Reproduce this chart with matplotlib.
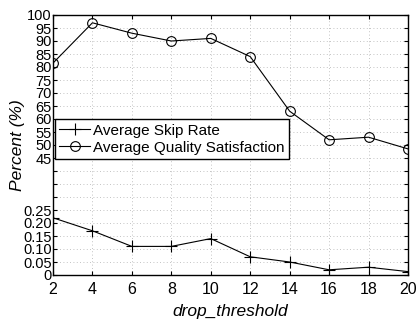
import numpy as np
import matplotlib
matplotlib.use("Agg")
import matplotlib.pyplot as plt

plt.rcParams["font.family"] = ["Liberation Sans", "DejaVu Sans"]

drop_threshold = [2, 4, 6, 8, 10, 12, 14, 16, 18, 20]
skip_rate = [0.22, 0.17, 0.11, 0.11, 0.14, 0.07, 0.05, 0.02, 0.03, 0.013]
quality = [81.5, 97, 93, 90, 91, 84, 63, 52, 53, 48.5]

low_ticks = [0, 0.05, 0.10, 0.15, 0.20, 0.25]
high_ticks = [45, 50, 55, 60, 65, 70, 75, 80, 85, 90, 95, 100]


# broken y scale: 0..0.25 in the bottom 5 steps, 45..100 in the top 11 steps
def to_pos(v):
    v = np.asarray(v, dtype=float)
    return np.where(v <= 0.25, v / 0.05, 9 + (v - 45) / 5)


fig = plt.figure(figsize=(4.17, 3.21), dpi=100)
ax = fig.add_axes([53 / 417, 46 / 321, 355 / 417, 260 / 321])

ax.plot(drop_threshold, to_pos(skip_rate), "k-", marker="+", markersize=8,
        markeredgewidth=0.8, linewidth=0.8, label="Average Skip Rate")
ax.plot(drop_threshold, to_pos(quality), "k-", marker="o", markersize=7,
        markerfacecolor="none", markeredgewidth=0.8, linewidth=0.8,
        label="Average Quality Satisfaction")

ax.set_xlim(2, 20)
ax.set_ylim(0, 20)
ax.set_xticks(drop_threshold)
ax.set_yticks(np.arange(0, 21))
labels = [""] * 21
for t in low_ticks:
    labels[int(round(t / 0.05))] = "0" if t == 0 else "%.2f" % t
for t in high_ticks:
    labels[int(round(9 + (t - 45) / 5))] = str(t)
ax.set_yticklabels(labels)
ax.tick_params(axis="x", labelsize=11.5, direction="in", top=True, length=3, pad=5)
ax.tick_params(axis="y", labelsize=10.5, direction="in", right=True, length=3, pad=1)

ax.grid(True, linestyle=(0, (1, 3)), color="#b0b0b0", linewidth=0.6)
for s in ax.spines.values():
    s.set_linewidth(1.0)

ax.set_xlabel("drop_threshold", fontsize=12.5, fontstyle="italic", labelpad=5)
ax.set_ylabel("Percent (%)", fontsize=12.5, fontstyle="italic")
ax.yaxis.set_label_coords(-0.08, 0.5)

leg = ax.legend(loc="upper left", bbox_to_anchor=(0.005, 0.6), borderaxespad=0,
                fontsize=11, fancybox=False, framealpha=1, edgecolor="black",
                handlelength=2.0, handletextpad=0.2, borderpad=0.3, labelspacing=0.2)
leg.get_frame().set_linewidth(1.0)

fig.savefig("out.png", dpi=100)
